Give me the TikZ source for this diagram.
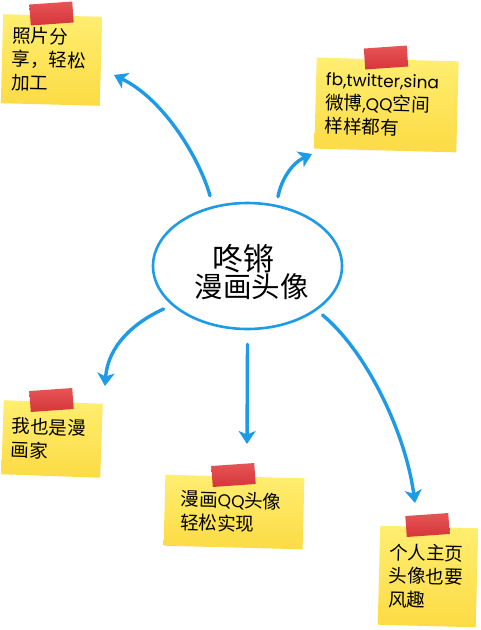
\documentclass[tikz,border=0pt]{standalone}
\usepackage{fontspec}
\setmainfont{Noto Sans CJK SC}
\newfontfamily\latfont[Scale=0.92]{Poppins}
\usetikzlibrary{arrows.meta,shapes.geometric}
\definecolor{arrowblue}{HTML}{1E9BE6}
\definecolor{notelight}{HTML}{FFEE70}
\definecolor{notedark}{HTML}{FCDB45}
\definecolor{tapered}{HTML}{D6353A}
\definecolor{tapelight}{HTML}{E65556}
\tikzset{
  conn/.style={draw=arrowblue, line width=3.4pt, line cap=round,
    -{Stealth[length=13pt,width=17pt,inset=3.5pt]}},
  sticky/.style={rectangle, inner sep=0pt, top color=notelight, bottom color=notedark,
    align=left, font=\fontsize{18.5}{23.5}\selectfont, text=black},
  tape/.style={rectangle, inner sep=0pt, minimum width=43pt, minimum height=21pt,
    top color=tapelight, bottom color=tapered, rotate=4},
  centre/.style={ellipse, draw=arrowblue, line width=2.6pt, fill=white,
    minimum width=189pt, minimum height=126pt, inner sep=0pt}
}
\begin{document}
\begin{tikzpicture}[x=1pt,y=-1pt]
\useasboundingbox[fill=white] (0,0) rectangle (480,630);

% central ellipse
\node[centre] (c) at (247.5,266) {};
\node[align=center, inner sep=0pt] (ctext) at (247.5,272)
  {\fontsize{31}{37.5}\selectfont 咚锵\hspace*{8pt}\\
   \fontsize{28.5}{37.5}\selectfont\hspace*{8pt}漫画头像};

% sticky notes
\node[sticky, minimum width=99pt, minimum height=89pt, text width=79pt, rotate=-1.5]
  (n1) at (51.5,60) {照片分\\享，轻松\\加工};
\node[sticky, minimum width=142pt, minimum height=91pt, text width=122pt, rotate=-1.5]
  (n2) at (386.5,105) {{\latfont fb,twitter,sina}\\微博{\latfont ,QQ}空间\\样样都有};
\node[sticky, minimum width=99pt, minimum height=74pt, text width=81pt, rotate=-2]
  (n3) at (52,439) {我也是漫\\画家};
\node[sticky, minimum width=139pt, minimum height=71pt, text width=107pt, rotate=-1.5]
  (n4) at (234,512) {漫画{\latfont QQ}头像\\轻松实现};
\node[sticky, minimum width=98pt, minimum height=99pt, text width=78pt, rotate=-1.5]
  (n5) at (428,576.5) {个人主页\\头像也要\\风趣};

% tapes
\node[tape] (t1) at (51.5,13.5) {};
\node[tape] (t2) at (386,57.5) {};
\node[tape] (t3) at (51.5,400) {};
\node[tape] (t4) at (233.5,475) {};
\node[tape] (t5) at (427.5,525) {};

% arrow end points
\coordinate (e1) at (114,75);
\coordinate (e2) at (312,154);
\coordinate (e3) at (105,386);
\coordinate (e4) at (247,444);
\coordinate (e5) at (415,503);

% connectors
\draw[conn] ([shift={(-37.5,-6)}]c.north) .. controls (200,160) and (165,100) .. (e1);
\draw[conn] ([shift={(30.5,-5)}]c.north) .. controls (281,180) and (292,163) .. (e2);
\draw[conn] ([shift={(-84,43)}]c.center) .. controls (135,322) and (108,345) .. (e3);
\draw[conn] ([shift={(0,14)}]c.south) -- (e4);
\draw[conn] ([shift={(75,49)}]c.center) .. controls (365,350) and (405,430) .. (e5);
\end{tikzpicture}
\end{document}
